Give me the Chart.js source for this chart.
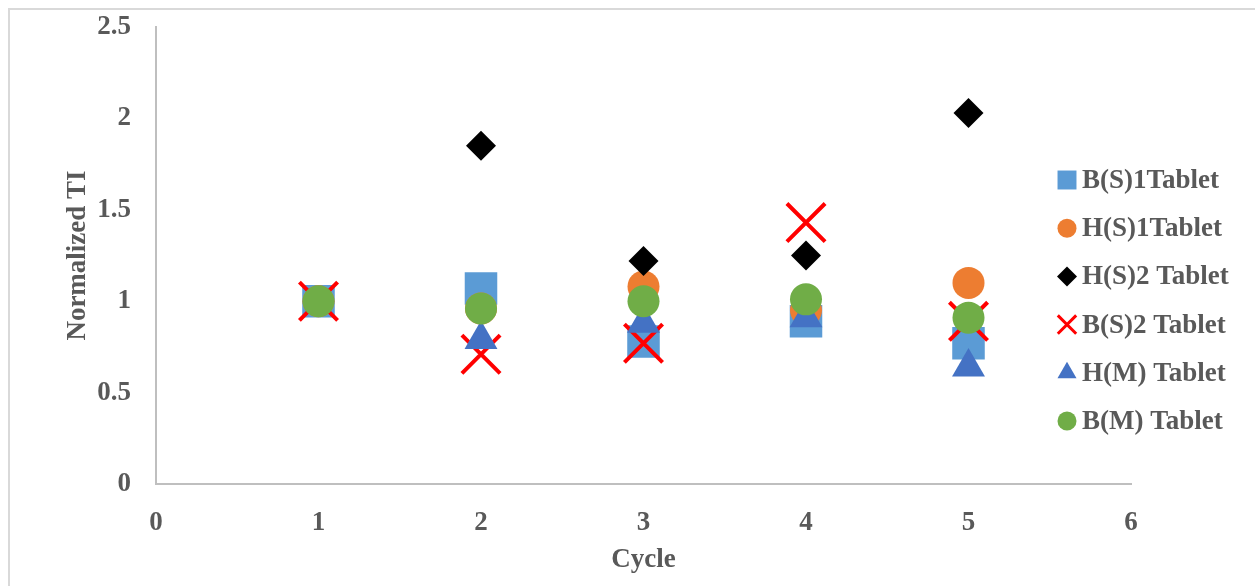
<!DOCTYPE html>
<html>
<head>
<meta charset="utf-8">
<script src="https://cdn.jsdelivr.net/npm/chart.js@4"></script>
<style>
  html, body { margin: 0; padding: 0; background: #fff; overflow: hidden; }
  #wrap { position: relative; width: 1255px; height: 586px; overflow: hidden; }
  #frame { position: absolute; left: 8px; top: 8px; width: 1300px; height: 640px;
           border-left: 2px solid #d9d9d9; border-top: 2px solid #d9d9d9; }
  canvas { position: absolute; left: 0; top: 0; }
</style>
</head>
<body>
<div id="wrap">
  <div id="frame"></div>
  <canvas id="chart" width="1255" height="586"></canvas>
</div>
<script>
const cycles = [1, 2, 3, 4, 5];
const seriesNames = ["B(S)1Tablet", "H(S)1Tablet", "H(S)2 Tablet", "B(S)2 Tablet", "H(M) Tablet", "B(M) Tablet"];
const bS1 = [1, 1.07, 0.78, 0.89, 0.77];
const hS1 = [1, 0.96, 1.08, 0.95, 1.10];
const hS2 = [1, 1.85, 1.22, 1.25, 2.03];
const bS2 = [1, 0.71, 0.77, 1.43, 0.89];
const hM = [null, 0.79, 0.88, 0.91, 0.64];
const bM = [1, 0.96, 1.00, 1.01, 0.91];
const xTicks = [0, 1, 2, 3, 4, 5, 6];
const yTicks = [0, 0.5, 1, 1.5, 2, 2.5];

const textColor = "#595959";
const fontFamily = "'Liberation Serif', 'Times New Roman', serif";

// marker look per series: [pointStyle, colour, radius, legend radius, line width]
const styles = [
  ["rect", "#5B9BD5", 23, 13.4, 0],
  ["circle", "#ED7D31", 16, 9.5, 0],
  ["rectRot", "#000000", 15, 10, 0],
  ["crossRot", "#FF0000", 27, 13, 4],
  ["triangle", "#4472C4", 19, 11, 0],
  ["circle", "#70AD47", 16, 9.5, 0]
];

const allValues = [bS1, hS1, hS2, bS2, hM, bM];

const datasets = allValues.map((vals, i) => {
  const [ps, col, r, , bw] = styles[i];
  return {
    label: seriesNames[i],
    data: cycles.map((c, j) => ({ x: c, y: vals[j] })),
    pointStyle: ps,
    pointRadius: r,
    pointHoverRadius: r,
    backgroundColor: col,
    borderColor: col,
    borderWidth: bw,
    pointBorderWidth: bw,
    showLine: false,
    order: 6 - i
  };
});

// legend drawn over the plot like the original (it overlaps the axis range)
const sideLegend = {
  id: "sideLegend",
  afterDraw(chart) {
    const ctx = chart.ctx;
    ctx.save();
    styles.forEach((s, i) => {
      const y = 180 + i * 48.2;
      ctx.fillStyle = s[1];
      ctx.strokeStyle = s[1];
      ctx.lineWidth = s[4] ? 3 : 0;
      Chart.helpers.drawPoint(ctx, { pointStyle: s[0], radius: s[3], rotation: 0, borderWidth: s[4] ? 3 : 0 }, 1067, y);
      ctx.fillStyle = textColor;
      ctx.font = "bold 27px " + fontFamily;
      ctx.textAlign = "left";
      ctx.textBaseline = "middle";
      ctx.fillText(seriesNames[i], 1082, y + 1);
    });
    ctx.restore();
  }
};

new Chart(document.getElementById("chart").getContext("2d"), {
  type: "scatter",
  data: { datasets },
  options: {
    responsive: false,
    animation: false,
    devicePixelRatio: 1,
    layout: { autoPadding: false, padding: { left: 8, right: 124, top: 27, bottom: 8 } },
    plugins: {
      legend: { display: false },
      tooltip: { enabled: false }
    },
    scales: {
      x: {
        type: "linear",
        min: 0,
        max: 6,
        afterBuildTicks: axis => { axis.ticks = xTicks.map(v => ({ value: v })); },
        afterFit: axis => { axis.height = 586 - 8 - 484; axis.paddingLeft = 0; axis.paddingRight = 0; },
        grid: { display: false },
        border: { display: true, color: "#bfbfbf", width: 2 },
        ticks: { color: textColor, padding: 15, font: { family: fontFamily, size: 27, weight: "bold" } },
        title: {
          display: true,
          text: "Cycle",
          color: textColor,
          padding: { top: 0, bottom: 2 },
          font: { family: fontFamily, size: 27, weight: "bold", lineHeight: 1.2 }
        }
      },
      y: {
        min: 0,
        max: 2.5,
        afterBuildTicks: axis => { axis.ticks = yTicks.map(v => ({ value: v })); },
        afterFit: axis => { axis.width = 148; axis.paddingTop = 0; axis.paddingBottom = 0; },
        grid: { display: false },
        border: { display: true, color: "#bfbfbf", width: 2 },
        ticks: {
          color: textColor,
          padding: 17,
          font: { family: fontFamily, size: 27, weight: "bold" },
          callback: v => String(v)
        },
        title: {
          display: true,
          text: "Normalized TI",
          color: textColor,
          padding: { top: 54, bottom: 0 },
          font: { family: fontFamily, size: 27, weight: "bold", lineHeight: 1.2 }
        }
      }
    }
  },
  plugins: [sideLegend]
});
</script>
</body>
</html>
